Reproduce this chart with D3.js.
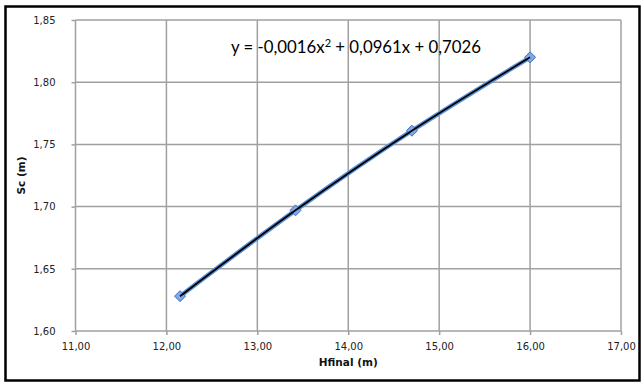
<!DOCTYPE html>
<html><head><meta charset="utf-8">
<script src="https://cdn.jsdelivr.net/npm/d3@7"></script>
<style>body{margin:0;background:#fff}svg{display:block}</style>
</head><body><svg id="c" width="644" height="382"></svg>
<script>
const hfinal = [12.15, 13.42, 14.70, 16.00];
const sc = [1.628, 1.697, 1.761, 1.820];
const xTicks = [11, 12, 13, 14, 15, 16, 17];
const yTicks = [1.60, 1.65, 1.70, 1.75, 1.80, 1.85];
const xTitle = "Hfinal (m)";
const yTitle = "Sc (m)";
const eqParts = ["y = -0,0016x", "2", " + 0,0961x + 0,7026"];

const svg = d3.select("#c");
const m = {l: 75.5, r: 621, t: 20, b: 331};
const x = d3.scaleLinear().domain([11, 17]).range([m.l, m.r]);
const y = d3.scaleLinear().domain([1.60, 1.85]).range([m.b, m.t]);
const fmt = d => d.toFixed(2).replace(".", ",");
const grid = "#a0a0a0";

svg.append("rect").attr("x", 5.5).attr("y", 6.5).attr("width", 634).attr("height", 374)
  .attr("fill", "#fff").attr("stroke", "#000").attr("stroke-width", 2.5);

svg.append("g").selectAll("line").data(yTicks.slice(1)).join("line")
  .attr("x1", m.l).attr("x2", m.r).attr("y1", d => y(d)).attr("y2", d => y(d))
  .attr("stroke", grid).attr("stroke-width", 1.5);
svg.append("g").selectAll("line").data(xTicks.slice(1)).join("line")
  .attr("y1", m.t).attr("y2", m.b).attr("x1", d => x(d)).attr("x2", d => x(d))
  .attr("stroke", grid).attr("stroke-width", 1.5);

const xa = svg.append("g").attr("transform", `translate(0,${m.b})`)
  .call(d3.axisBottom(x).tickValues(xTicks).tickFormat(fmt).tickSize(4).tickPadding(8));
const ya = svg.append("g").attr("transform", `translate(${m.l},0)`)
  .call(d3.axisLeft(y).tickValues(yTicks).tickFormat(fmt).tickSize(4).tickPadding(16));
[xa, ya].forEach(g => {
  g.selectAll("path,line").attr("stroke", grid).attr("stroke-width", 1.5);
  g.selectAll("text").attr("fill", "#222").style("font-family", "DejaVu Sans").style("font-size", "10px");
});
xa.select(".domain").attr("d", `M${m.l},0H${m.r}`);
ya.select(".domain").attr("d", `M0,${m.t}V${m.b}`);

svg.append("text").attr("x", x(14)).attr("y", 366).attr("text-anchor", "middle")
  .style("font-family", "DejaVu Sans").style("font-weight", "bold").style("font-size", "10.5px")
  .attr("fill", "#111").text(xTitle);
svg.append("text").attr("transform", `translate(25,${(m.t + m.b) / 2}) rotate(-90)`)
  .attr("text-anchor", "middle")
  .style("font-family", "DejaVu Sans").style("font-weight", "bold").style("font-size", "10.5px")
  .attr("fill", "#111").text(yTitle);

const pts = hfinal.map((v, i) => [x(v), y(sc[i])]);
const line = d3.line().curve(d3.curveCatmullRom.alpha(0.5));
svg.append("path").attr("d", line(pts)).attr("fill", "none")
  .attr("stroke", "#5b8fd6").attr("stroke-width", 4.5).attr("stroke-linejoin", "round");
svg.append("g").selectAll("path").data(pts).join("path")
  .attr("transform", d => `translate(${d[0]},${d[1]})`)
  .attr("d", "M0,-5.5L5.5,0L0,5.5L-5.5,0Z")
  .attr("fill", "#7ea9e6").attr("stroke", "#3d6fc0").attr("stroke-width", 1);
svg.append("path").attr("d", line(pts)).attr("fill", "none")
  .attr("stroke", "#000").attr("stroke-width", 1.8);

const eq = svg.append("text").attr("x", 356).attr("y", 53).attr("text-anchor", "middle")
  .style("font-family", "Lato").style("font-size", "16.8px").attr("fill", "#000");
eq.append("tspan").text(eqParts[0]);
eq.append("tspan").attr("dy", -6).style("font-size", "11px").text(eqParts[1]);
eq.append("tspan").attr("dy", 6).text(eqParts[2]);
</script></body></html>
